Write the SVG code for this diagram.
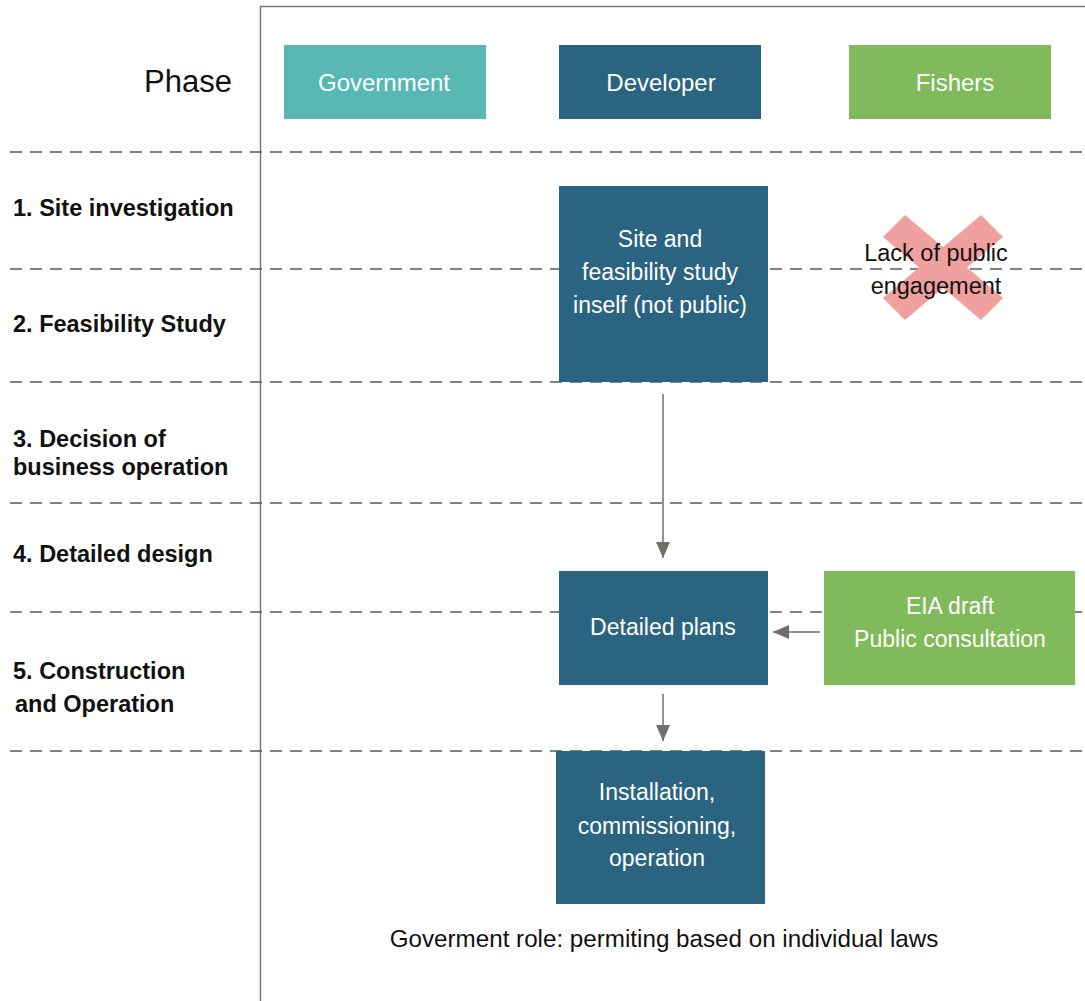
<svg xmlns="http://www.w3.org/2000/svg" width="1085" height="1001" viewBox="0 0 1085 1001">
  <style>
    text { font-family: "Liberation Sans", Arial, sans-serif; }
    .lane { font-size: 24px; fill: #ffffff; text-anchor: middle; }
    .box-text { font-size: 23px; fill: #ffffff; text-anchor: middle; }
    .phase { font-size: 23.5px; font-weight: bold; fill: #111111; }
    .note { font-size: 24.2px; fill: #111111; text-anchor: middle; }
    .warn { font-size: 23.5px; fill: #111111; text-anchor: middle; }
    .sep { stroke: #5a5a5a; stroke-width: 1.3; stroke-dasharray: 12 8; fill: none; }
    .frame { stroke: #7a7a7a; stroke-width: 1.5; fill: none; }
    .conn { stroke: #6e706b; stroke-width: 1.5; fill: none; }
    .dev { fill: #2b6480; }
    .gov { fill: #57b8b4; }
    .fish { fill: #80ba5a; }
  </style>
  <defs>
    <marker id="arrow" viewBox="0 0 16 14" refX="16" refY="7" markerWidth="16" markerHeight="14" markerUnits="userSpaceOnUse" orient="auto">
      <path d="M0,0 L16,7 L0,14 Z" fill="#6e706b"/>
    </marker>
  </defs>

  <rect width="1085" height="1001" fill="#ffffff"/>

  <!-- outer frame of the swimlane area -->
  <path class="frame" d="M260.5,1001 V6.5 H1085"/>

  <!-- phase separators -->
  <g id="separators">
    <line class="sep" x1="10" y1="152" x2="1085" y2="152"/>
    <line class="sep" x1="10" y1="269" x2="1085" y2="269"/>
    <line class="sep" x1="10" y1="382" x2="1085" y2="382"/>
    <line class="sep" x1="10" y1="503" x2="1085" y2="503"/>
    <line class="sep" x1="10" y1="612" x2="1085" y2="612"/>
    <line class="sep" x1="10" y1="751" x2="1085" y2="751"/>
  </g>

  <!-- phase column -->
  <g id="phases">
    <text x="232" y="92" style="font-size:31px;fill:#111111;text-anchor:end">Phase</text>
    <text class="phase" x="13" y="216">1. Site investigation</text>
    <text class="phase" x="13" y="332">2. Feasibility Study</text>
    <text class="phase" x="13" y="447">3. Decision of</text>
    <text class="phase" x="13" y="475">business operation</text>
    <text class="phase" x="13" y="562">4. Detailed design</text>
    <text class="phase" x="13" y="679">5. Construction</text>
    <text class="phase" x="15" y="712">and Operation</text>
  </g>

  <!-- lane headers -->
  <g id="lane-government">
    <rect class="gov" x="284" y="45" width="202" height="74"/>
    <text class="lane" x="384" y="91">Government</text>
  </g>
  <g id="lane-developer">
    <rect class="dev" x="559" y="45" width="202" height="74"/>
    <text class="lane" x="661" y="91">Developer</text>
  </g>
  <g id="lane-fishers">
    <rect class="fish" x="849" y="45" width="202" height="74"/>
    <text class="lane" x="955" y="91">Fishers</text>
  </g>

  <!-- process nodes -->
  <g id="node-feasibility">
    <rect class="dev" x="559" y="186" width="209" height="196"/>
    <text class="box-text" x="660" y="247">Site and</text>
    <text class="box-text" x="660" y="280">feasibility study</text>
    <text class="box-text" x="660" y="313">inself (not public)</text>
  </g>

  <g id="node-no-engagement">
    <polygon points="883,237 905,215 1003,298 981,320" fill="#f0a09e"/>
    <polygon points="883,298 981,215 1003,237 905,320" fill="#f0a09e"/>
    <text class="warn" x="936" y="261">Lack of public</text>
    <text class="warn" x="936" y="294">engagement</text>
  </g>

  <g id="node-detailed-plans">
    <rect class="dev" x="559" y="571" width="209" height="114"/>
    <text class="box-text" x="663" y="635">Detailed plans</text>
  </g>

  <g id="node-eia">
    <rect class="fish" x="824" y="571" width="251" height="114"/>
    <text class="box-text" x="950" y="614">EIA draft</text>
    <text class="box-text" x="950" y="647">Public consultation</text>
  </g>

  <g id="node-installation">
    <rect class="dev" x="556" y="751" width="209" height="153"/>
    <text class="box-text" x="657" y="800">Installation,</text>
    <text class="box-text" x="657" y="834">commissioning,</text>
    <text class="box-text" x="657" y="866">operation</text>
  </g>

  <!-- connectors -->
  <g id="connectors">
    <line class="conn" x1="663" y1="394" x2="663" y2="558" marker-end="url(#arrow)"/>
    <line class="conn" x1="663" y1="694" x2="663" y2="741" marker-end="url(#arrow)"/>
    <line class="conn" x1="820" y1="632" x2="773" y2="632" marker-end="url(#arrow)"/>
  </g>

  <text class="note" x="664" y="947">Goverment role: permiting based on individual laws</text>
</svg>
